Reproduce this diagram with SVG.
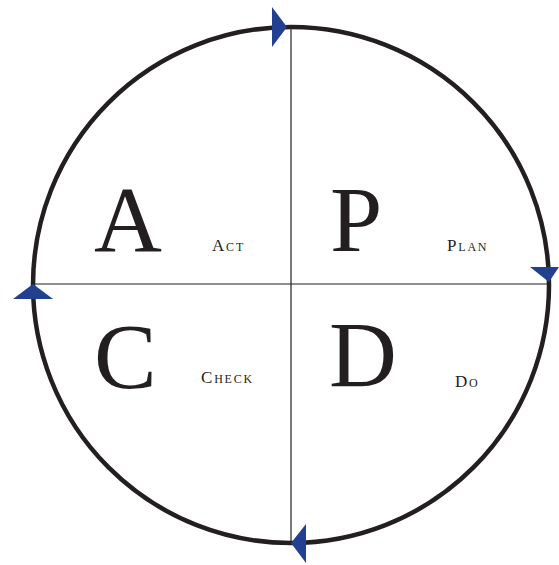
<svg xmlns="http://www.w3.org/2000/svg" width="559" height="565" viewBox="0 0 559 565">
<style>
.big{font-family:"Liberation Serif",serif;font-size:94px;fill:#231f20}
.sm{font-family:"Liberation Serif",serif;font-size:17px;fill:#231f20;font-variant:small-caps;letter-spacing:1.8px}
.ax{stroke:#231f20;stroke-width:1.2;fill:none}
.arr{fill:#233f8f}
</style>
<rect width="559" height="565" fill="#ffffff"/>
<g id="connectors">
<line class="ax" x1="33" y1="284" x2="549" y2="284"/>
<line class="ax" x1="291" y1="27" x2="291" y2="543"/>
</g>
<g id="cycle">
<circle cx="291" cy="285" r="258" fill="none" stroke="#231f20" stroke-width="4.5"/>
</g>
<g id="arrows">
<polygon class="arr" points="272,7 272,47 287,27"/>
<polygon class="arr" points="530,267 559,267 549,282"/>
<polygon class="arr" points="13,299 53,299 33,284"/>
<polygon class="arr" points="306,524 306,563 291,543"/>
</g>
<g id="act"><text class="big" x="94" y="251">A</text><text class="sm" x="212" y="251">Act</text></g>
<g id="plan"><text class="big" x="330" y="251">P</text><text class="sm" x="447" y="251">Plan</text></g>
<g id="check"><text class="big" x="94" y="388">C</text><text class="sm" x="201" y="383">Check</text></g>
<g id="do"><text class="big" x="329" y="386">D</text><text class="sm" x="455" y="387">Do</text></g>
</svg>
